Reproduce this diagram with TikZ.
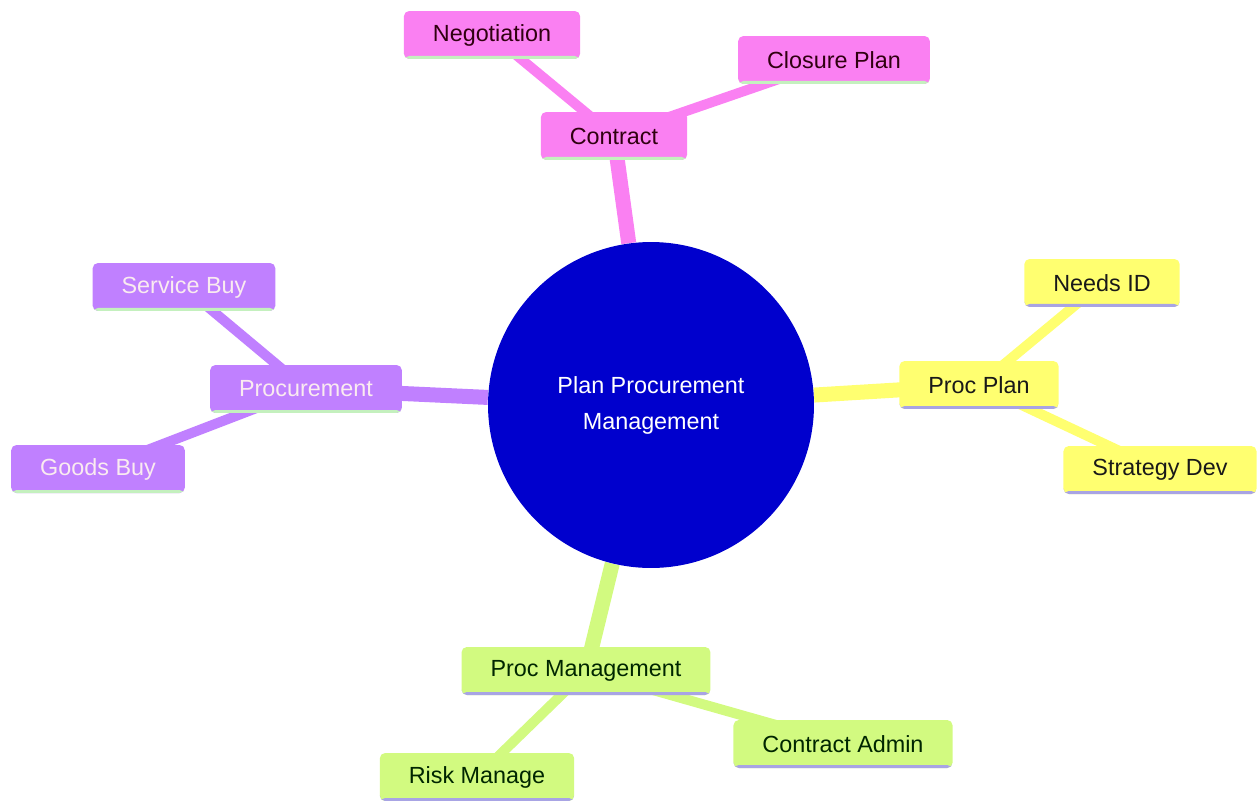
\documentclass[tikz,border=0pt]{standalone}
\usepackage{fontspec}
\setmainfont{Liberation Sans}
\usetikzlibrary{backgrounds}
\definecolor{hubblue}{RGB}{0,0,205}
\definecolor{pinkfill}{RGB}{250,128,242}
\definecolor{purplefill}{RGB}{192,128,255}
\definecolor{yellowfill}{RGB}{255,255,112}
\definecolor{greenfill}{RGB}{210,250,128}
\definecolor{mintline}{RGB}{196,240,190}
\definecolor{lavline}{RGB}{168,164,228}
\tikzset{
    %Define style for boxes
    box/.style 2 args={
           rectangle,
           rounded corners=3pt,
           fill=#1,
           inner xsep=0.58cm,
           minimum height=0.96cm,
           font=\fontsize{13.3}{16}\selectfont,
           path picture={\fill[#2] ([yshift=0.06cm]path picture bounding box.south west)
                 rectangle (path picture bounding box.south east);}},
    %Define style for the centre
    hub/.style={
           circle,
           fill=hubblue,
           minimum size=6.52cm,
           text=white,
           align=center,
           font=\fontsize{13.3}{20.5}\selectfont},
    % Define branch styles
    limb/.style={line width=0.3cm, draw=#1},
    twig/.style={line width=0.2cm, draw=#1}
}
\begin{document}
\begin{tikzpicture}[x=0.02cm,y=-0.02cm]
\useasboundingbox (0,0) rectangle (1258,801);

\node[hub] (plan) at (651,405) {Plan Procurement\\Management};

% contract branch
\node[box={pinkfill}{mintline}, text={black!75!purple}] (contract) at (614,136) {Contract};
\node[box={pinkfill}{mintline}, text={black!75!purple}] (negot) at (492,35) {Negotiation};
\node[box={pinkfill}{mintline}, text={black!75!purple}] (closure) at (834,60) {Closure Plan};

% procurement branch
\node[box={purplefill}{mintline}, text={white!92!purple}] (procure) at (306,389) {Procurement};
\node[box={purplefill}{mintline}, text={white!92!purple}] (service) at (184,287) {Service Buy};
\node[box={purplefill}{mintline}, text={white!92!purple}] (goods) at (98,469) {Goods Buy};

% plan branch
\node[box={yellowfill}{lavline}, text=black!90] (procplan) at (979,385) {Proc Plan};
\node[box={yellowfill}{lavline}, text=black!90] (needs) at (1102,283) {Needs ID};
\node[box={yellowfill}{lavline}, text=black!90] (strategy) at (1160,470) {Strategy Dev};

% management branch
\node[box={greenfill}{lavline}, text={black!85!green}] (procmgmt) at (586,671) {Proc Management};
\node[box={greenfill}{lavline}, text={black!85!green}] (admin) at (843,744) {Contract Admin};
\node[box={greenfill}{lavline}, text={black!85!green}] (risk) at (477,777) {Risk Manage};

\begin{scope}[on background layer]
\draw[limb=pinkfill] (plan) -- (contract.center);
\draw[twig=pinkfill] (contract.center) -- (negot.center);
\draw[twig=pinkfill] (contract.center) -- (closure.center);
\draw[limb=purplefill] (plan) -- (procure.center);
\draw[twig=purplefill] (procure.center) -- (service.center);
\draw[twig=purplefill] (procure.center) -- (goods.center);
\draw[limb=yellowfill] (plan) -- (procplan.center);
\draw[twig=yellowfill] (procplan.center) -- (needs.center);
\draw[twig=yellowfill] (procplan.center) -- (strategy.center);
\draw[limb=greenfill] (plan) -- (procmgmt.center);
\draw[twig=greenfill] (procmgmt.center) -- (admin.center);
\draw[twig=greenfill] (procmgmt.center) -- (risk.center);
\end{scope}
\end{tikzpicture}
\end{document}
